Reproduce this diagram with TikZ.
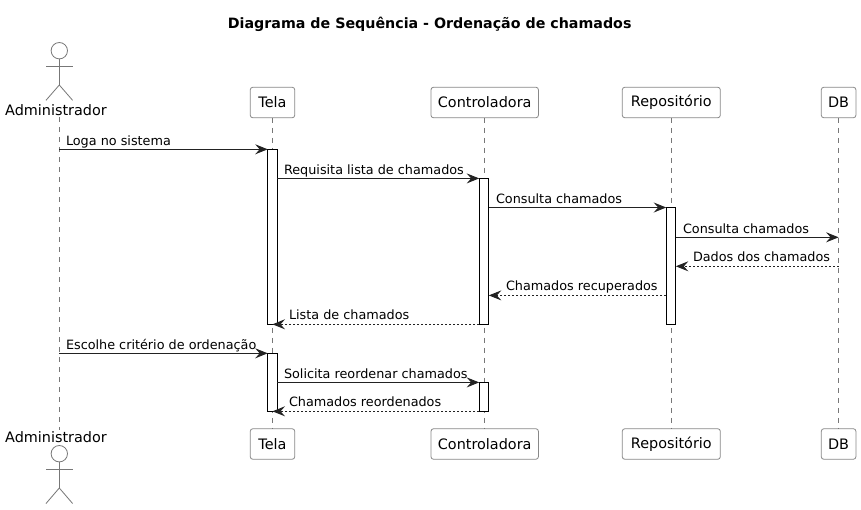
\documentclass[tikz,border=0pt]{standalone}
\usepackage{fontspec}
\setmainfont{DejaVu Sans}
\usetikzlibrary{arrows.meta}
\definecolor{boxline}{HTML}{888888}
\definecolor{lifecol}{HTML}{777777}
\definecolor{msgcol}{HTML}{222222}
\tikzset{
  x=1pt,y=-1pt,
  txt/.style={font=\fontsize{12.8}{13}\selectfont,text=black,inner sep=0pt,outer sep=0pt},
  part/.style={font=\fontsize{14.4}{14}\selectfont,text=black,inner sep=0pt,outer sep=0pt,draw=boxline,line width=0.8pt,rounded corners=2.5pt,fill=white,minimum height=30.5pt,anchor=center},
  actorname/.style={font=\fontsize{14.4}{14}\selectfont,text=black,inner sep=0pt,outer sep=0pt,anchor=base,text height=13pt,text depth=2pt},
  actorhead/.style={draw=lifecol,line width=0.8pt,circle,minimum size=16.4pt,inner sep=0pt,outer sep=0pt,fill=white},
  limb/.style={draw=lifecol,line width=0.8pt},
  lifeline/.style={draw=lifecol,line width=0.6pt,dash pattern=on 5pt off 5pt},
  bar/.style={draw=black,line width=0.9pt,fill=white,minimum width=9.6pt,inner sep=0pt,outer sep=0pt},
  msg/.style={draw=msgcol,line width=0.9pt,-{Stealth[length=12.5pt,width=10pt,inset=4.5pt,fill=msgcol]}},
  ret/.style={msg,dash pattern=on 2pt off 2pt},
  lbl/.style={txt,anchor=base west},
}
\begin{document}
\begin{tikzpicture}
\useasboundingbox[fill=white] (0,0) rectangle (861,509);
\node[inner sep=0pt,anchor=base,font=\fontsize{14.24}{14}\selectfont\bfseries] (title) at (429.7,28) {Diagrama de Sequência - Ordenação de chamados};

% participants
\node[actorhead] (headT) at (59.3,50.7) {};
\node[actorhead] (headB) at (59.3,453.7) {};
\node[actorname] (adminT) at (56,115) {Administrador};
\node[actorname] (adminB) at (56,442.5) {Administrador};
\node[part,minimum width=44.4pt] (telaT) at (272.5,102.5) {Tela};
\node[part,minimum width=107.4pt] (ctrlT) at (484.7,102.5) {Controladora};
\node[part,minimum width=98pt] (repoT) at (671.3,102.5) {Repositório};
\node[part,minimum width=34.6pt] (dbT) at (838.6,102.5) {DB};
\node[part,minimum width=44.4pt] (telaB) at (272.5,444) {Tela};
\node[part,minimum width=107.4pt] (ctrlB) at (484.7,444) {Controladora};
\node[part,minimum width=98pt] (repoB) at (671.3,444) {Repositório};
\node[part,minimum width=34.6pt] (dbB) at (838.6,444) {DB};

% actor figures
\foreach \h/\ay/\hy/\fy in {headT/66/85/100.3,headB/469.3/488/503.5}{
  \draw[limb] (\h.south) -- (59.3,\hy);
  \draw[limb] (46,\ay) -- (72.6,\ay);
  \draw[limb] (46,\fy) -- (59.3,\hy) -- (72.6,\fy);
}

% lifelines
\draw[lifeline] (adminT.south -| headT) -- (adminB.north -| headT);
\draw[lifeline] (telaT.south) -- (telaB.north);
\draw[lifeline] (ctrlT.south) -- (ctrlB.north);
\draw[lifeline] (repoT.south) -- (repoB.north);
\draw[lifeline] (dbT.south) -- (dbB.north);

% activation bars
\node[bar,minimum height=175pt] (tela1) at (272.5,236.8) {};
\node[bar,minimum height=58pt] (tela2) at (272.5,382.3) {};
\node[bar,minimum height=146pt] (ctrl1) at (484,251.3) {};
\node[bar,minimum height=29pt] (ctrl2) at (484,396.8) {};
\node[bar,minimum height=117pt] (repo1) at (671,265.8) {};

% message rows
\foreach \n/\y in {1/149.3,2/178.4,3/207.5,4/237.3,5/266.3,6/295.4,7/324.3,8/353.3,9/382.4,10/411.3}{
  \coordinate (m\n) at (0,\y);
}

\draw[msg] (headT |- m1) -- (tela1.west |- m1);
\draw[msg] (tela1.east |- m2) -- (ctrl1.west |- m2);
\draw[msg] (ctrl1.east |- m3) -- (repo1.west |- m3);
\draw[msg] (repo1.east |- m4) -- (dbT.south |- m4);
\draw[ret] (dbT.south |- m5) -- (repo1.east |- m5);
\draw[ret] (repo1.west |- m6) -- (ctrl1.east |- m6);
\draw[ret] (ctrl1.west |- m7) -- (tela1 |- m7);
\draw[msg] (headT |- m8) -- (tela2.west |- m8);
\draw[msg] (tela2.east |- m9) -- (ctrl2.west |- m9);
\draw[ret] (ctrl2.west |- m10) -- (tela2 |- m10);

% labels
\node[lbl] (l1) at (66,145) {Loga no sistema};
\node[lbl] (l2) at (284,174) {Requisita lista de chamados};
\node[lbl] (l3) at (496,203) {Consulta chamados};
\node[lbl] (l4) at (683,233) {Consulta chamados};
\node[lbl] (l5) at (693,261.5) {Dados dos chamados};
\node[lbl] (l6) at (506,290.5) {Chamados recuperados};
\node[lbl] (l7) at (289,319.5) {Lista de chamados};
\node[lbl] (l8) at (66,349) {Escolhe critério de ordenação};
\node[lbl] (l9) at (284,378) {Solicita reordenar chamados};
\node[lbl] (l10) at (289,406.5) {Chamados reordenados};
\end{tikzpicture}
\end{document}
